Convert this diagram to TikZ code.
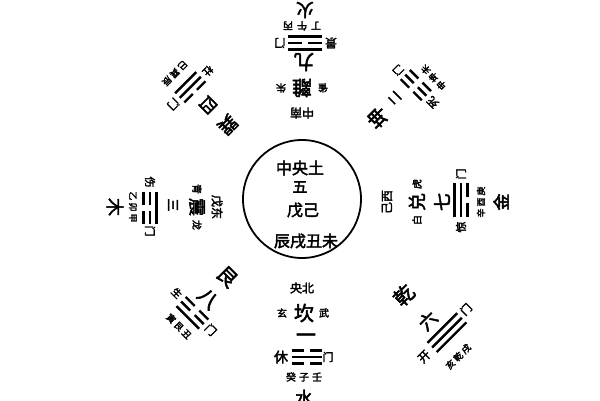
\documentclass[tikz,border=0pt]{standalone}
\usepackage{fontspec}
\newfontfamily\cjk[FakeBold=2.6]{Noto Sans CJK SC}
\tikzset{
  fs/.style={font=\cjk\fontsize{#1}{#1}\selectfont, inner sep=0pt},
  yao/.style={line width=2.4pt},
  sector/.style={shift={(302,201)}, rotate=#1, every node/.append style={transform shape}}
}
\newcommand\yaoline[4]{%
  \ifnum#4=1\relax
    \draw[yao] ({#1-#3},{-(#2)}) -- ({#1+#3},{-(#2)});
  \else
    \draw[yao] ({#1-#3},{-(#2)}) -- ({#1-0.2*#3},{-(#2)});
    \draw[yao] ({#1+0.2*#3},{-(#2)}) -- ({#1+#3},{-(#2)});
  \fi}
\newcommand\trig[6]{\yaoline{#1}{#2-6.5}{#3}{#4}\yaoline{#1}{#2}{#3}{#5}\yaoline{#1}{#2+6.5}{#3}{#6}}
\begin{document}
\begin{tikzpicture}[x=1pt,y=1pt]
\fill[white] (0,0) rectangle (600,400);
\useasboundingbox (0,0) rectangle (600,400);
% centre
\node[circle, draw, line width=1.8pt, minimum size=118pt, inner sep=0pt] (cen) at (302,201) {};
\node[fs=16] (c1) at (300,232) {中央土};
\node[fs=15] (c2) at (300,213) {五};
\node[fs=16] (c3) at (303,190) {戊己};
\node[fs=16] (c4) at (306,159) {辰戌丑未};
% north (bottom)
\begin{scope}[sector=0]
\node[fs=12] (nN0) at (0,-89) {央北};
\node[fs=10] (nN1) at (-20,-114) {玄};
\node[fs=20] (nN2) at (2,-114) {坎};
\node[fs=10] (nN3) at (22,-114) {武};
\node[fs=20] (nN4) at (4,-139) {一};
\node[fs=14] (nN5) at (-21,-158) {休};
\trig{5}{158}{15}{0}{1}{0}
\node[fs=11] (nN6) at (26,-158) {门};
\node[fs=10] (nN7) at (2,-178) {癸\hspace{3pt}子\hspace{3pt}壬};
\node[fs=18] (nN8) at (2,-199) {水};
\end{scope}
% south (top)
\begin{scope}[sector=180]
\node[fs=12] (nS0) at (0,-86) {中南};
\node[fs=10] (nS1) at (-21,-111) {雀};
\node[fs=20] (nS2) at (0,-111) {離};
\node[fs=10] (nS3) at (21,-111) {朱};
\node[fs=20] (nS4) at (-2,-137) {九};
\node[fs=12] (nS5) at (-29,-156) {景};
\trig{-3}{156}{17}{1}{0}{1}
\node[fs=11] (nS6) at (22,-156) {门};
\node[fs=10] (nS7) at (0,-173) {丁\hspace{4pt}午\hspace{4pt}丙};
\node[fs=18] (nS8) at (-3,-189) {火};
\end{scope}
% east (left)
\begin{scope}[sector=270]
\node[fs=12] (nE0) at (8,-85) {戊东};
\node[fs=10] (nE1) at (-10,-105) {青};
\node[fs=18] (nE2) at (8,-105) {震};
\node[fs=10] (nE3) at (26,-105) {龙};
\node[fs=13] (nE4) at (6,-129) {三};
\node[fs=11] (nE5) at (-17,-152) {伤};
\trig{9}{152}{16}{1}{0}{0}
\node[fs=11] (nE6) at (32,-152) {门};
\node[fs=9] (nE7) at (8,-169) {乙\hspace{2pt}卯\hspace{2pt}甲};
\node[fs=18] (nE8) at (8,-187) {木};
\end{scope}
% west (right)
\begin{scope}[sector=90]
\node[fs=12] (nW0) at (-3,-85) {己西};
\node[fs=10] (nW1) at (-21,-115) {白};
\node[fs=18] (nW2) at (-3,-115) {兑};
\node[fs=10] (nW3) at (15,-115) {虎};
\node[fs=18] (nW4) at (-3,-140) {七};
\node[fs=11] (nW5) at (-28,-159) {惊};
\trig{-1}{159}{17}{1}{1}{0}
\node[fs=11] (nW6) at (25,-159) {门};
\node[fs=9] (nW7) at (-3,-179) {辛\hspace{2pt}酉\hspace{2pt}庚};
\node[fs=17] (nW8) at (-3,-199) {金};
\end{scope}
% top-right (kun)
\begin{scope}[sector=135]
\node[fs=20] (nSW2) at (4,-111) {坤};
\node[fs=13] (nSW4) at (6,-137) {二};
\node[fs=11] (nSW5) at (-24,-161) {死};
\trig{0}{161}{15}{0}{0}{0}
\node[fs=10] (nSW6) at (23,-159) {门};
\node[fs=9] (nSW7) at (-7,-179) {申\hspace{2pt}坤\hspace{2pt}未};
\end{scope}
% top-left (xun)
\begin{scope}[sector=225]
\node[fs=19] (nSE2) at (0,-105) {巽};
\node[fs=17] (nSE4) at (0,-133) {四};
\node[fs=10] (nSE5) at (-24,-157) {杜};
\trig{0}{158}{15}{0}{1}{1}
\node[fs=11] (nSE6) at (24,-158) {门};
\node[fs=9] (nSE7) at (1,-179) {巳\hspace{2pt}巽\hspace{2pt}辰};
\end{scope}
% bottom-left (gen)
\begin{scope}[sector=315]
\node[fs=20] (nNE2) at (2,-108) {艮};
\node[fs=20] (nNE4) at (4,-137) {八};
\node[fs=10] (nNE5) at (-22,-155) {生};
\trig{3}{158}{16}{0}{0}{1}
\node[fs=11] (nNE6) at (28,-157) {门};
\node[fs=9] (nNE7) at (3,-177) {寅\hspace{2pt}艮\hspace{2pt}丑};
\end{scope}
% bottom-right (qian)
\begin{scope}[sector=45]
\node[fs=20] (nNW2) at (4,-140) {乾};
\node[fs=18] (nNW4) at (3,-175) {六};
\node[fs=12] (nNW5) at (-25,-198) {开};
\trig{8}{197}{21}{1}{1}{1}
\node[fs=11] (nNW6) at (38,-194) {门};
\node[fs=9] (nNW7) at (-1,-222) {亥\hspace{2pt}乾\hspace{2pt}戌};
\end{scope}
\end{tikzpicture}
\end{document}
